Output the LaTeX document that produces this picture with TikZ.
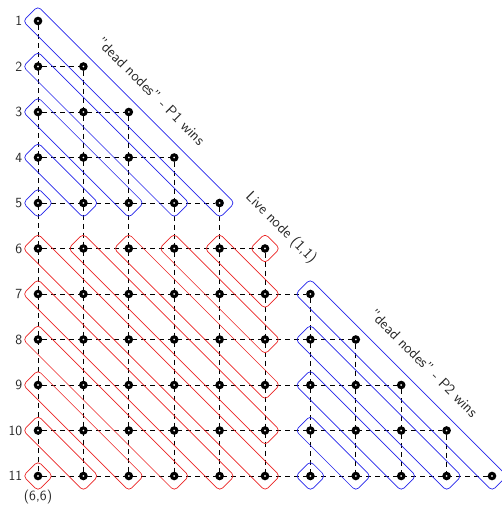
\documentclass[tikz,border=0pt]{standalone}
\usepackage{tikz}
\usetikzlibrary{positioning,calc,backgrounds}
\definecolor{gmink}{RGB}{0,0,0}
\definecolor{gmone}{RGB}{35,35,235}
\definecolor{gmtwo}{RGB}{235,35,35}
\tikzset{
  dot/.style={
    circle, draw=gmink, fill=white, line width=3.1pt,
    inner sep=0pt, minimum size=5.3pt
  },
  dashln/.style={draw=gmink, dash pattern=on 5pt off 4pt, line width=0.7pt},
  diag/.style={
    draw, rotate=-45, rounded corners=4pt, inner sep=0pt,
    minimum height=21pt, line width=0.7pt
  },
  pone/.style={diag, draw=gmone},
  ptwo/.style={diag, draw=gmtwo},
  rowlbl/.style={font=\fontsize{14}{16}\selectfont\sffamily, text=black!85},
  anno/.style={font=\fontsize{15}{17}\selectfont\sffamily, text=black!85, rotate=-45},
  every picture/.append style={font=\sffamily}
}

\begin{document}
\begin{tikzpicture}[x=45.4pt, y=45.5pt]
  \useasboundingbox (-38pt,21pt) rectangle (464pt,-484pt);
  % game tree nodes
  \foreach \r in {1,...,11} {
    \foreach \c in {1,...,\r} {
      \node[dot] (d-\c-\r) at ({\c-1},{1-\r}) {};
    }
    \node[rowlbl, left=8pt of d-1-\r] (l-\r) {\r};
  }
  \node[rowlbl, below=6pt of d-1-11] (orig) {(6,6)};
  % dashed grid
  \begin{scope}[on background layer]
    \foreach \r in {2,...,11}
      \draw[dashln] (d-1-\r) -- (d-\r-\r);
    \foreach \c in {1,...,10}
      \draw[dashln] (d-\c-\c) -- (d-\c-11);
  \end{scope}
  % P1 wins
  \foreach \k in {0,...,4} {
    \pgfmathtruncatemacro\ra{1+\k}
    \pgfmathtruncatemacro\cb{5-\k}
    \pgfmathsetmacro\bw{(4-\k)*64.3+21}
    \node[pone, minimum width=\bw pt] (ba-\k) at ($(d-1-\ra)!0.5!(d-\cb-5)$) {};
  }
  % live region
  \foreach \c in {1,...,6} {
    \pgfmathtruncatemacro\rb{12-\c}
    \pgfmathsetmacro\bw{(6-\c)*64.3+21}
    \node[ptwo, minimum width=\bw pt] (bt-\c) at ($(d-\c-6)!0.5!(d-6-\rb)$) {};
  }
  \foreach \r in {7,...,11} {
    \pgfmathtruncatemacro\cb{12-\r}
    \pgfmathsetmacro\bw{(11-\r)*64.3+21}
    \node[ptwo, minimum width=\bw pt] (bl-\r) at ($(d-1-\r)!0.5!(d-\cb-11)$) {};
  }
  % P2 wins
  \foreach \k in {0,...,4} {
    \pgfmathtruncatemacro\ra{7+\k}
    \pgfmathtruncatemacro\cb{11-\k}
    \pgfmathsetmacro\bw{(4-\k)*64.3+21}
    \node[pone, minimum width=\bw pt] (bb-\k) at ($(d-7-\ra)!0.5!(d-\cb-11)$) {};
  }
  \node[anno] (p1win) at (2.49,-1.54) {''dead nodes'' - P1 wins};
  \node[anno] (live) at (5.35,-4.55) {Live node (1,1)};
  \node[anno] (p2win) at (8.5,-7.52) {''dead nodes'' - P2 wins};
\end{tikzpicture}
\end{document}
